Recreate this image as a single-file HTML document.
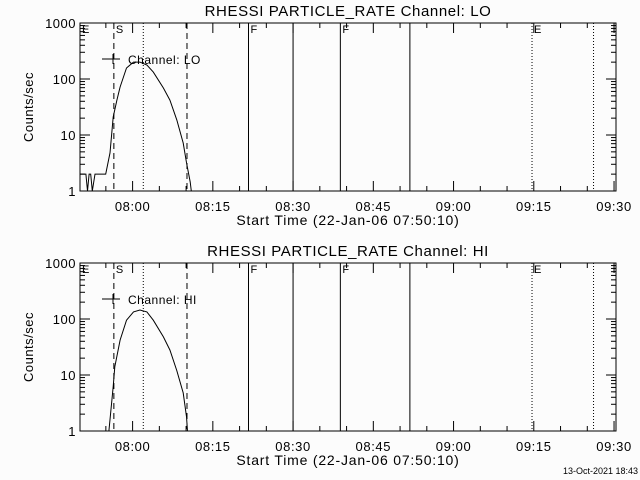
<!DOCTYPE html>
<html><head><meta charset="utf-8"><style>
html,body{margin:0;padding:0;background:#fcfcfc;}
svg{display:block;font-family:"Liberation Sans",sans-serif;}
</style></head><body>
<svg id="chart" width="640" height="480" viewBox="0 0 640 480"></svg>
<script>
// data: minutes since 07:50:10, counts/sec
const loTimes=[0,1.1,1.4,1.7,2.0,2.3,2.8,4.8,5.6,6.2,6.9,7.5,8.7,10.0,11.2,12.5,13.7,15.6,16.8,18.1,19.3,19.9,20.6,20.8];
const loCounts=[2,2,1,2,2,1,2,2,4.8,21,42,72,157,200,200,177,133,69,42,18.6,7.2,3.2,1.45,1];
const hiTimes=[5.4,6.2,6.5,7.5,8.7,10.0,11.2,12.5,13.7,15.6,16.8,18.1,19.3,19.9,20.1];
const hiCounts=[1,6.2,14,42,95,134,145,134,95,48,28,12,4.8,1.8,1];
const xTickLabels=["08:00","08:15","08:30","08:45","09:00","09:15","09:30"];
const xTickMinutes=[9.833,24.833,39.833,54.833,69.833,84.833,99.833];
const yTickLabels=["1","10","100","1000"];
const yTickValues=[1,10,100,1000];
const markerMinutes=[6.33,11.83,20.0,31.5,39.83,48.67,61.67,84.5,96.0];
const markerStyles=["dash","dot","dash","solid","solid","solid","solid","dot","dot"];
const markerLabels=[["S",6.33],["F",31.5],["F",48.67],["E",84.5]];

const svg=document.getElementById('chart');
const NS="http://www.w3.org/2000/svg";
function mk(tag,attrs,parent){const e=document.createElementNS(NS,tag);for(const k in attrs)e.setAttribute(k,attrs[k]);(parent||svg).appendChild(e);return e;}
const X0=80,X1=616,TMAX=100.2;
function xs(t){return X0+(X1-X0)*t/TMAX;}

function panel(top,chan,times,counts,nm){
  const bot=top+168;
  function ys(v){return bot-56*Math.log10(v);}
  const g=mk('g',{});
  
  
  const t=mk('text',{x:348,y:top-7,'text-anchor':'middle','font-size':15,'letter-spacing':'0.6'},g);
  t.textContent='RHESSI PARTICLE_RATE Channel: '+chan;
  
  
  const fr=mk('rect',{x:X0,y:top,width:X1-X0,height:168,fill:'none',stroke:'#000','stroke-width':1},g);
  
  
  for(let d=0;d<3;d++){for(let m=1;m<10;m++){const y=ys(Math.pow(10,d)*m);const L=m==1?10:5;
    mk('line',{x1:X0,x2:X0+L,y1:y,y2:y,stroke:'#000'},g);mk('line',{x1:X1,x2:X1-L,y1:y,y2:y,stroke:'#000'},g);}}
  yTickValues.forEach((v,i)=>{const tx=mk('text',{x:X0-4,y:ys(v)+5,'text-anchor':'end','font-size':13,'letter-spacing':'0.5'},g);tx.textContent=yTickLabels[i];
    
    });
  const yt=mk('text',{x:0,y:0,'text-anchor':'middle','font-size':13,'letter-spacing':'0.5',transform:`translate(33,${top+84}) rotate(-90)`},g);yt.textContent='Counts/sec';
  
  
  for(let k=-1;k<=20;k++){const tm=9.833+5*k;if(tm<0||tm>TMAX)continue;const x=xs(tm);const L=(k%3==0)?10:5;
    mk('line',{x1:x,x2:x,y1:bot,y2:bot-L,stroke:'#000'},g);mk('line',{x1:x,x2:x,y1:top,y2:top+L,stroke:'#000'},g);}
  xTickMinutes.forEach((tm,i)=>{const tx=mk('text',{x:xs(tm),y:bot+20,'text-anchor':'middle','font-size':13,'letter-spacing':'0.6'},g);tx.textContent=xTickLabels[i];
    
    });
  const xt=mk('text',{x:348,y:bot+34,'text-anchor':'middle','font-size':14,'letter-spacing':'0.8'},g);xt.textContent='Start Time (22-Jan-06 07:50:10)';
  
  
  markerMinutes.forEach((tm,i)=>{const x=xs(tm);const st=markerStyles[i];
    const l=mk('line',{x1:x,x2:x,y1:top,y2:bot,stroke:'#000','stroke-dasharray':st=='dash'?'6,4':st=='dot'?'1,2':'none'},g);
    
    });
  markerLabels.forEach(([s,tm])=>{const tx=mk('text',{x:xs(tm)+2,y:top+10,'font-size':11},g);tx.textContent=s;
    
    });
  const ec=mk('text',{x:82,y:top+10,'font-size':11},g);ec.textContent='E';
  
  
  const pts=times.map((tm,i)=>xs(tm).toFixed(1)+','+ys(counts[i]).toFixed(1)).join(' ');
  const pl=mk('polyline',{points:pts,fill:'none',stroke:'#000','stroke-width':1},g);
  
  
  const lg=mk('g',{},g);
  
  
  mk('line',{x1:102,x2:120,y1:top+36,y2:top+36,stroke:'#000'},lg);
  mk('line',{x1:113,x2:113,y1:top+31,y2:top+41,stroke:'#000'},lg);
  const lt=mk('text',{x:128,y:top+41,'font-size':12,'letter-spacing':'0.5'},lg);lt.textContent='Channel: '+chan;
}
panel(23,'LO',loTimes,loCounts,'lo');
panel(263,'HI',hiTimes,hiCounts,'hi');
const ts=mk('text',{x:638,y:474,'text-anchor':'end','font-size':9});ts.textContent='13-Oct-2021 18:43';


</script>
</body></html>
